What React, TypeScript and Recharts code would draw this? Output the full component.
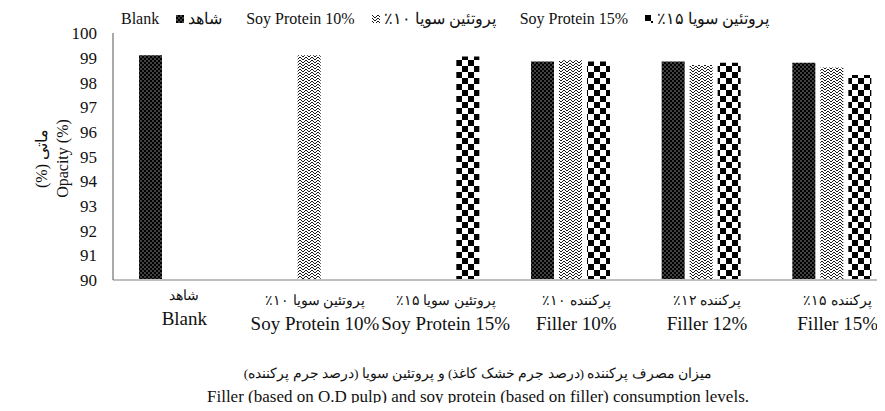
import React from "react";
import { BarChart, Bar, XAxis, YAxis, Legend } from "recharts";

const categories = [
  "Blank",
  "Soy Protein 10%",
  "Soy Protein 15%",
  "Filler 10%",
  "Filler 12%",
  "Filler 15%",
];
const categoriesFa = [
  "شاهد",
  "پروتئین سویا ۱۰٪",
  "پروتئین سویا ۱۵٪",
  "پرکننده ۱۰٪",
  "پرکننده ۱۲٪",
  "پرکننده ۱۵٪",
];

// opacity (%) per series, null where the series was not measured
const blankValues = [99.1, null, null, 98.85, 98.85, 98.8];
const soy10Values = [null, 99.1, null, 98.9, 98.7, 98.6];
const soy15Values = [null, null, 99.05, 98.85, 98.8, 98.3];

const seriesNames = ["Blank", "Soy Protein 10%", "Soy Protein 15%"];
const seriesNamesFa = ["شاهد", "پروتئین سویا ۱۰٪", "پروتئین سویا ۱۵٪"];
const patternIds = ["patBlank", "patSoy10", "patSoy15"];

const yTicks = [90, 91, 92, 93, 94, 95, 96, 97, 98, 99, 100];

const data = categories.map((name, i) => ({
  name,
  blank: blankValues[i],
  soy10: soy10Values[i],
  soy15: soy15Values[i],
}));

const serif = "'Liberation Serif', 'Times New Roman', serif";
const txt = { fontFamily: serif, fontWeight: 400 } as React.CSSProperties;

const CategoryTick = (props: any) => {
  const { x, y, payload } = props;
  const i = payload.index;
  const lift = i === 0 ? -5 : 0;
  return (
    <g>
      <text
        x={x + 6}
        y={y + 17 + lift}
        textAnchor="middle"
        fontSize={14}
        fill="#111"
        style={{ ...txt, direction: "rtl" }}
      >
        {categoriesFa[i]}
      </text>
      <text
        x={x + 6}
        y={y + 42 + lift}
        textAnchor="middle"
        fontSize={19}
        fill="#111"
        style={txt}
      >
        {payload.value}
      </text>
    </g>
  );
};

const ValueTick = (props: any) => {
  const { x, y, payload } = props;
  return (
    <text
      x={x}
      y={y}
      dy="0.36em"
      textAnchor="end"
      fontSize={17}
      fill="#111"
      style={txt}
    >
      {payload.value}
    </text>
  );
};

const XTitle = (props: any) => {
  const vb = props.viewBox;
  const cx = vb.x + vb.width / 2 - 27;
  return (
    <g fill="#111">
      <text
        x={cx}
        y={378}
        textAnchor="middle"
        fontSize={13.5}
        style={{ ...txt, direction: "rtl" }}
      >
        میزان مصرف پرکننده (درصد جرم خشک کاغذ) و پروتئین سویا (درصد جرم پرکننده)
      </text>
      <text x={cx} y={402} textAnchor="middle" fontSize={17} style={txt}>
        Filler (based on O.D pulp) and soy protein (based on filler) consumption
        levels.
      </text>
    </g>
  );
};

const YTitle = (props: any) => {
  const vb = props.viewBox;
  const cy = vb.y + vb.height / 2 + 2;
  return (
    <g fill="#111" fontSize={16}>
      <text
        x={47}
        y={cy}
        textAnchor="middle"
        transform={`rotate(-90 47 ${cy})`}
        style={{ ...txt, direction: "rtl" }}
      >
        ماتی (%)
      </text>
      <text
        x={68}
        y={cy}
        textAnchor="middle"
        transform={`rotate(-90 68 ${cy})`}
        style={txt}
      >
        Opacity (%)
      </text>
    </g>
  );
};

const TopLegend = () => (
  <div
    style={{
      display: "flex",
      alignItems: "center",
      paddingLeft: 121,
      fontFamily: serif,
      fontSize: 16,
      lineHeight: "17px",
      color: "#111",
      whiteSpace: "nowrap",
    }}
  >
    {seriesNames.map((s, i) => (
      <div
        key={s}
        style={{ display: "flex", alignItems: "center", marginRight: 24 }}
      >
        <span>{s}</span>
        <svg width={8} height={8} style={{ margin: "0 4px 0 17px" }}>
          <rect width={8} height={8} fill={`url(#${patternIds[i]})`} />
        </svg>
        <span style={{ direction: "rtl" }}>{seriesNamesFa[i]}</span>
      </div>
    ))}
  </div>
);

export default function App() {
  return (
    <div
      style={{
        margin: -8,
        width: 885,
        height: 411,
        overflow: "hidden",
        background: "#fff",
      }}
    >
      <BarChart
        width={905}
        height={411}
        data={data}
        margin={{ top: 16, right: 8, left: 0, bottom: 0 }}
        barSize={23}
        barGap={5}
      >
        <defs>
          <pattern id="patBlank" width={4} height={4} patternUnits="userSpaceOnUse">
            <rect width={4} height={4} fill="#000" />
            <rect x={0.5} y={0.5} width={1} height={1} fill="#fff" />
            <rect x={2.5} y={2.5} width={1} height={1} fill="#fff" />
          </pattern>
          <pattern id="patSoy10" width={6} height={6} patternUnits="userSpaceOnUse">
            <rect width={6} height={6} fill="#fff" />
            <path d="M0 0 L3 3 L6 0 M0 3 L3 6 L6 3" stroke="#000" strokeWidth={0.9} fill="none" />
          </pattern>
          <pattern id="patSoy15" width={12} height={12} patternUnits="userSpaceOnUse">
            <rect width={12} height={12} fill="#fff" />
            <rect x={0} y={0} width={6} height={6} fill="#000" />
            <rect x={6} y={6} width={6} height={6} fill="#000" />
          </pattern>
        </defs>
        <Legend
          verticalAlign="top"
          content={TopLegend}
          wrapperStyle={{ top: 10, left: 0, width: 905 }}
        />
        <XAxis
          dataKey="name"
          interval={0}
          height={131}
          tickLine={false}
          axisLine={{ stroke: "#bfbfbf", strokeWidth: 2 }}
          tick={CategoryTick}
          label={XTitle}
        />
        <YAxis
          width={113}
          domain={[90, 100]}
          ticks={yTicks}
          interval={0}
          tickLine={false}
          tickMargin={10}
          axisLine={{ stroke: "#555" }}
          tick={ValueTick}
          label={YTitle}
        />
        <Bar dataKey="blank" name={seriesNames[0]} fill="url(#patBlank)" isAnimationActive={false} />
        <Bar dataKey="soy10" name={seriesNames[1]} fill="url(#patSoy10)" isAnimationActive={false} />
        <Bar dataKey="soy15" name={seriesNames[2]} fill="url(#patSoy15)" isAnimationActive={false} />
      </BarChart>
    </div>
  );
}
